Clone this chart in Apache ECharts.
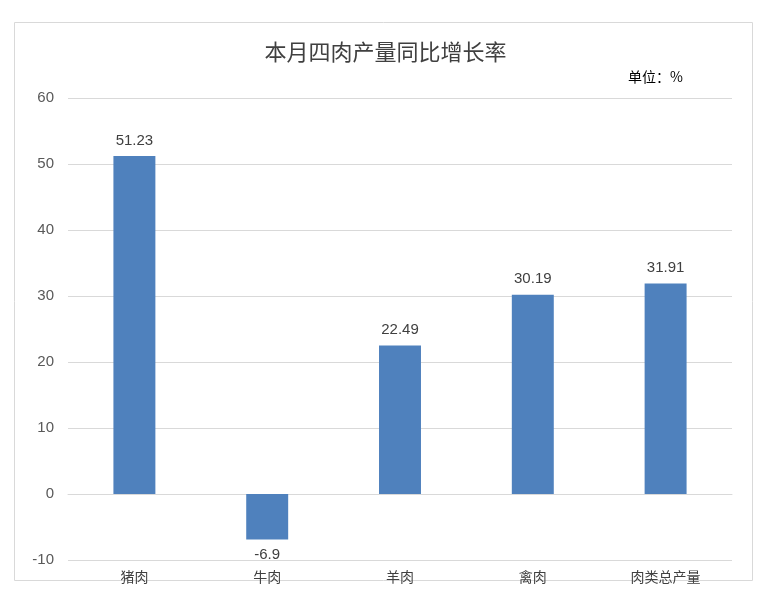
<!DOCTYPE html>
<html><head><meta charset="utf-8">
<script src="https://cdn.jsdelivr.net/npm/echarts@6/dist/echarts.min.js"></script>
<style>html,body{margin:0;padding:0;background:#fff}#c{width:771px;height:600px}</style>
</head><body><div id="c"></div>
<script>
const categories = ['猪肉','牛肉','羊肉','禽肉','肉类总产量'];
const values = [51.23, -6.9, 22.49, 30.19, 31.91];
const chart = echarts.init(document.getElementById('c'));
chart.setOption({
  animation:false,
  graphic:[{type:'rect',shape:{x:14.5,y:22.5,width:738,height:558},style:{fill:'none',stroke:'#d9d9d9',lineWidth:1}}],
  title:{text:'本月四肉产量同比增长率',left:'center',top:36,textStyle:{fontFamily:'Noto Sans CJK SC',fontSize:22,fontWeight:'normal',color:'#404040'}},
  graphic2:null,
  grid:{left:68,right:39,top:98,bottom:40},
  xAxis:{type:'category',data:categories,axisLine:{onZero:true,lineStyle:{color:'#d9d9d9'}},axisTick:{show:false},
    axisLabel:{fontFamily:'Noto Sans CJK SC',fontSize:14,color:'#404040',margin:10}},
  yAxis:{type:'value',min:-10,max:60,interval:10,axisLine:{show:false},axisTick:{show:false},
    splitLine:{lineStyle:{color:'#d9d9d9'}},axisLabel:{fontSize:15,color:'#595959',margin:14}},
  series:[{type:'bar',data:values,barWidth:'31.6%',itemStyle:{color:'#4f81bd'},
    label:{show:true,position:'outside',fontSize:15,color:'#404040',distance:8,formatter:p=>String(p.value)}}]
});
chart.setOption({graphic:[
  {type:'rect',shape:{x:14.5,y:22.5,width:738,height:558},style:{fill:'none',stroke:'#d9d9d9',lineWidth:1}},
  {type:'text',left:628,top:70,style:{text:'单位：%',fontFamily:'Noto Sans CJK SC',fontSize:14,fill:'#000'}}
]});
</script></body></html>
